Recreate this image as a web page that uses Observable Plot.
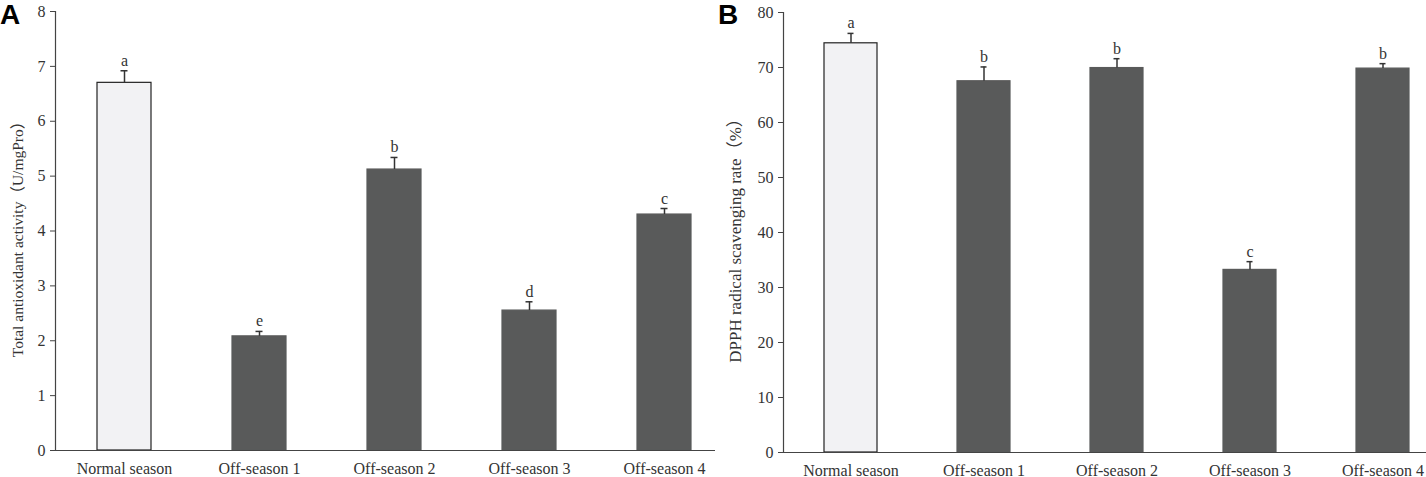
<!DOCTYPE html>
<html>
<head>
<meta charset="utf-8">
<script src="https://cdn.jsdelivr.net/npm/d3@7"></script>
<script src="https://cdn.jsdelivr.net/npm/@observablehq/plot@0.6"></script>
<style>
  html, body { margin: 0; padding: 0; background: #fff; }
  #wrap { position: relative; width: 1426px; height: 477px; display: flex; }
  .plabel { position: absolute; font-family: "Liberation Sans", Arial, sans-serif; font-weight: bold; font-size: 28px; line-height: 28px; color: #000; }
</style>
</head>
<body>
<div id="wrap">
  <div class="plabel" style="left:0px; top:1px;">A</div>
  <div class="plabel" style="left:718px; top:1px;">B</div>
</div>
<script>
const categories = ["Normal season", "Off-season 1", "Off-season 2", "Off-season 3", "Off-season 4"];

// Panel A: total antioxidant activity (U/mgPro)
const taocMean = [6.70, 2.08, 5.12, 2.55, 4.30];
const taocSE = [0.22, 0.09, 0.22, 0.16, 0.11];
const taocLetters = ["a", "e", "b", "d", "c"];
const taocTicks = [0, 1, 2, 3, 4, 5, 6, 7, 8];

// Panel B: DPPH radical scavenging rate (%)
const dpphMean = [74.4, 67.5, 69.9, 33.2, 69.8];
const dpphSE = [1.8, 2.6, 1.7, 1.5, 0.9];
const dpphLetters = ["a", "b", "b", "c", "b"];
const dpphTicks = [0, 10, 20, 30, 40, 50, 60, 70, 80];

const LIGHT = "#f2f2f4", DARK = "#595a5a", INK = "#333", AXIS = "#444";

function rows(mean, se, letters) {
  return categories.map((c, i) => ({
    cat: c, mean: mean[i], top: mean[i] + se[i], letter: letters[i],
    fill: i === 0 ? LIGHT : DARK, stroke: i === 0 ? "#222" : DARK
  }));
}

function panel({data, domain, ticks, width, marginLeft, marginRight, marginTop, marginBottom, xRange, title, titleDx, titleDy, titleSize}) {
  return Plot.plot({
    width, height: 477, marginLeft, marginRight, marginTop, marginBottom,
    style: {fontFamily: "'Liberation Serif', 'Times New Roman', 'Noto Sans CJK SC', serif", fontSize: "16px", color: INK, background: "transparent", overflow: "visible"},
    x: {domain: categories, range: xRange, paddingInner: 0.6, paddingOuter: 0.3, axis: null},
    y: {domain, axis: null},
    marks: [
      Plot.barY(data, {x: "cat", y: "mean", fill: "fill", stroke: "stroke", strokeWidth: 1.2}),
      Plot.ruleX(data, {x: "cat", y1: "mean", y2: "top", stroke: INK, strokeWidth: 1.5}),
      Plot.tickY(data, {x: "cat", y: "top", insetLeft: 23.5, insetRight: 23.5, stroke: INK, strokeWidth: 1.5}),
      Plot.text(data, {x: "cat", y: "top", text: "letter", lineAnchor: "bottom", dy: -5, fontSize: 16, fill: INK}),
      Plot.ruleY([0], {stroke: AXIS, strokeWidth: 1.2}),
      Plot.frame({anchor: "left", stroke: AXIS, strokeWidth: 1.2}),
      Plot.axisY({ticks, tickSize: 5, tickPadding: 5, label: null, fontSize: 16, stroke: AXIS}),
      Plot.axisX({tickSize: 0, tickPadding: 12, label: null, fontSize: 16}),
      Plot.text([title], {frameAnchor: "left", textAnchor: "middle", lineAnchor: "middle", rotate: -90, dx: titleDx, dy: titleDy, fontSize: titleSize, fill: INK})
    ]
  });
}

const wrap = document.getElementById("wrap");
const a = panel({
  data: rows(taocMean, taocSE, taocLetters), domain: [0, 8], ticks: taocTicks,
  width: 720, marginLeft: 55, marginRight: 5, marginTop: 11, marginBottom: 27,
  xRange: [56.5, 731.5],
  title: "Total antioxidant activity（U/mgPro）", titleDx: -37, titleDy: 4.5, titleSize: 15.5
});
const b = panel({
  data: rows(dpphMean, dpphSE, dpphLetters), domain: [0, 80], ticks: dpphTicks,
  width: 706, marginLeft: 63, marginRight: 0, marginTop: 12, marginBottom: 25,
  xRange: [64, 729],
  title: "DPPH radical scavenging rate（%）", titleDx: -48, titleDy: 4, titleSize: 17
});
wrap.insertBefore(b, wrap.firstChild);
wrap.insertBefore(a, wrap.firstChild);
</script>
</body>
</html>
